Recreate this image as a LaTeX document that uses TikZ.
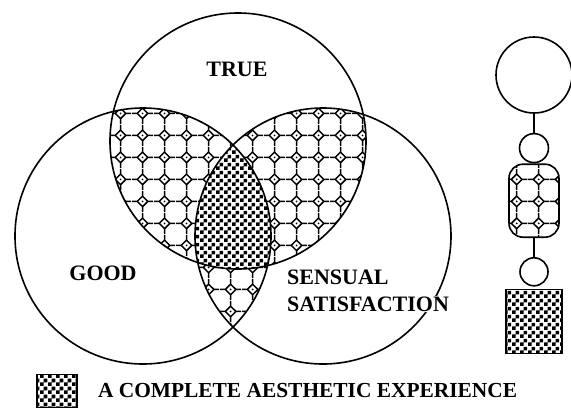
\documentclass[tikz,border=0pt]{standalone}
\usepackage{fontspec}
\setmainfont{Liberation Serif}
\usetikzlibrary{positioning, patterns}

% octagon-and-diamond tiling
\pgfdeclarepatternformonly{octagons}{\pgfpointorigin}{\pgfqpoint{22pt}{22pt}}{\pgfqpoint{22pt}{22pt}}{
  \pgfsetlinewidth{1.5pt}
  \pgfpathmoveto{\pgfqpoint{5.5pt}{11pt}}
  \pgfpathlineto{\pgfqpoint{11pt}{16.5pt}}
  \pgfpathlineto{\pgfqpoint{16.5pt}{11pt}}
  \pgfpathlineto{\pgfqpoint{11pt}{5.5pt}}
  \pgfpathclose
  \pgfpathmoveto{\pgfqpoint{0pt}{11pt}}\pgfpathlineto{\pgfqpoint{5.5pt}{11pt}}
  \pgfpathmoveto{\pgfqpoint{16.5pt}{11pt}}\pgfpathlineto{\pgfqpoint{22pt}{11pt}}
  \pgfpathmoveto{\pgfqpoint{11pt}{0pt}}\pgfpathlineto{\pgfqpoint{11pt}{5.5pt}}
  \pgfpathmoveto{\pgfqpoint{11pt}{16.5pt}}\pgfpathlineto{\pgfqpoint{11pt}{22pt}}
  \pgfusepath{stroke}
  \pgfpathcircle{\pgfqpoint{11pt}{11pt}}{1pt}
  \pgfusepath{fill}
}

% checkerboard
\pgfdeclarepatternformonly{checker}{\pgfpointorigin}{\pgfqpoint{8pt}{8pt}}{\pgfqpoint{8pt}{8pt}}{
  \pgfpathrectangle{\pgfpointorigin}{\pgfqpoint{4pt}{4pt}}
  \pgfpathrectangle{\pgfqpoint{4pt}{4pt}}{\pgfqpoint{4pt}{4pt}}
  \pgfusepath{fill}
}

\begin{document}
\begin{tikzpicture}[
    x=1pt, y=-1pt,
    venn/.style={
        draw,
        line width=1.6pt
    },
    lbl/.style={
        font=\fontsize{22}{26}\selectfont\bfseries,
        inner sep=1pt
    },
    ring/.style={
        circle,
        draw,
        line width=1.6pt,
        inner sep=0pt
    },
    capsule/.style={
        rectangle,
        draw,
        line width=1.6pt,
        rounded corners=14pt,
        minimum width=50pt,
        minimum height=73pt,
        pattern=octagons
    },
    sqbox/.style={
        rectangle,
        draw,
        line width=1.6pt,
        fill=white,
        postaction={pattern=checker}
    },
    link/.style={
        line width=1.6pt
    }
]

    \useasboundingbox (0,0) rectangle (571,410);

    % Circle centres
    \coordinate (ctrue) at (238,141);
    \coordinate (cgood) at (143,236);
    \coordinate (csens) at (323,236);

    % Pairwise overlaps
    \begin{scope}
        \clip (ctrue) circle[radius=128pt];
        \fill[pattern=octagons] (cgood) circle[radius=128pt] (csens) circle[radius=128pt];
    \end{scope}
    \begin{scope}
        \clip (cgood) circle[radius=128pt];
        \fill[pattern=octagons] (csens) circle[radius=128pt];
    \end{scope}

    % All three
    \begin{scope}
        \clip (ctrue) circle[radius=128pt];
        \clip (cgood) circle[radius=128pt];
        \fill[white] (csens) circle[radius=128pt];
        \fill[pattern=checker] (csens) circle[radius=128pt];
    \end{scope}

    \draw[venn] (ctrue) circle[radius=128pt];
    \draw[venn] (cgood) circle[radius=128pt];
    \draw[venn] (csens) circle[radius=128pt];

    % Labels
    \node[lbl] (true) at (237,69) {TRUE};
    \node[lbl] (good) at (103,273) {GOOD};
    \node[lbl, anchor=west] (sensual) at (286,277) {SENSUAL};
    \node[lbl, anchor=west, fill=white] (satisf) at (286,304) {SATISFACTION};

    % Side column
    \node[ring, minimum size=76pt] (bigc) at (534,75) {};
    \node[ring, minimum size=29pt, below=19pt of bigc] (smalla) {};
    \node[capsule, below=0pt of smalla] (caps) {};
    \node[ring, minimum size=28pt, below=19pt of caps] (smallb) {};
    \node[sqbox, minimum width=56pt, minimum height=64pt, below=2pt of smallb] (chkbox) {};

    \draw[link] (bigc) -- (smalla);
    \draw[link] (caps) -- (smallb);

    % Legend
    \node[sqbox, minimum width=40pt, minimum height=33pt] (legbox) at (57,391) {};
    \node[lbl, font=\fontsize{21.4}{26}\selectfont\bfseries, right=19pt of legbox] (legtext) {A COMPLETE AESTHETIC EXPERIENCE};

\end{tikzpicture}
\end{document}
